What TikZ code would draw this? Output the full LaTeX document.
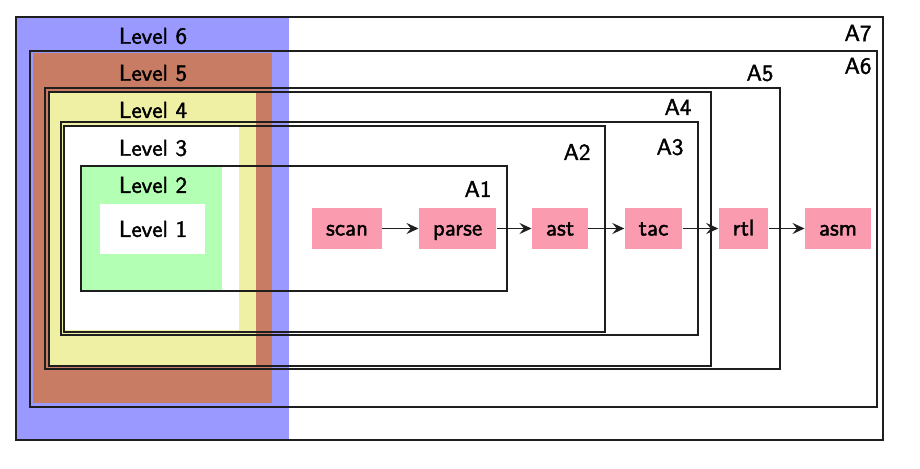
\documentclass[tikz,border=0pt]{standalone}
\usepackage{fontspec}
\setsansfont{lmsans10-regular.otf}[FakeBold=1.8]
\usetikzlibrary{arrows.meta}
\definecolor{lvsix}{RGB}{153,153,255}
\definecolor{lvfive}{RGB}{200,124,100}
\definecolor{lvfour}{RGB}{240,240,165}
\definecolor{lvtwo}{RGB}{179,255,179}
\definecolor{pinkbox}{RGB}{250,155,175}
\definecolor{edge}{RGB}{30,30,30}
\begin{document}
\begin{tikzpicture}[x=0.5pt,y=-0.5pt,
  every node/.style={font=\sffamily\fontsize{11.5}{14}\selectfont, text=black},
  frame/.style={draw=edge, line width=0.85pt},
  lvl/.style={inner sep=0pt, anchor=center},
  lab/.style={inner sep=0pt, anchor=center},
  pass/.style={fill=pinkbox, inner xsep=7pt, inner ysep=0pt, text height=9pt, text depth=2pt, minimum height=20.5pt, anchor=center},
  arr/.style={-{Stealth[length=6pt,width=5.5pt,inset=2.2pt]}, line width=0.85pt, draw=edge}]
\useasboundingbox (0,0) rectangle (920,469);
% fills
\fill[lvsix] (16,17) rectangle (289,440);
\fill[lvfive] (33,53) rectangle (272,403);
\fill[lvfour] (50,92) rectangle (256,366);
\fill[white] (64,126) rectangle (239,330);
\fill[lvtwo] (82,167) rectangle (222,291);
\fill[white] (100,204) rectangle (205,254);
% frames
\draw[frame] (16,17) rectangle (883,440);
\draw[frame] (30,51) rectangle (877,407);
\draw[frame] (45,88) rectangle (780,369);
\draw[frame] (49,92) rectangle (711,366);
\draw[frame] (61,122) rectangle (698,335);
\draw[frame] (64,126) rectangle (605,332);
\draw[frame] (81,166) rectangle (507,291);
% level labels
\node[lvl] (l6) at (153,36) {Level 6};
\node[lvl] (l5) at (153,73) {Level 5};
\node[lvl] (l4) at (153,110) {Level 4};
\node[lvl] (l3) at (153,148) {Level 3};
\node[lvl] (l2) at (153,185) {Level 2};
\node[lvl] (l1) at (153,229) {Level 1};
% area labels
\node[lab] (a7) at (858,33) {A7};
\node[lab] (a6) at (858,66) {A6};
\node[lab] (a5) at (760,73) {A5};
\node[lab] (a4) at (678,107) {A4};
\node[lab] (a3) at (670,147) {A3};
\node[lab] (a2) at (577,152) {A2};
\node[lab] (a1) at (478,189) {A1};
% passes
\node[pass] (scan) at (347,228.5) {scan};
\node[pass] (parse) at (457.5,228.5) {parse};
\node[pass] (ast) at (560,228.5) {ast};
\node[pass] (tac) at (653.5,228.5) {tac};
\node[pass] (rtl) at (743.5,228.5) {rtl};
\node[pass] (asm) at (838,228.5) {asm};
\draw[arr] (scan) -- (parse);
\draw[arr] (parse) -- (ast);
\draw[arr] (ast) -- (tac);
\draw[arr] (tac) -- (rtl);
\draw[arr] (rtl) -- (asm);
\end{tikzpicture}
\end{document}
